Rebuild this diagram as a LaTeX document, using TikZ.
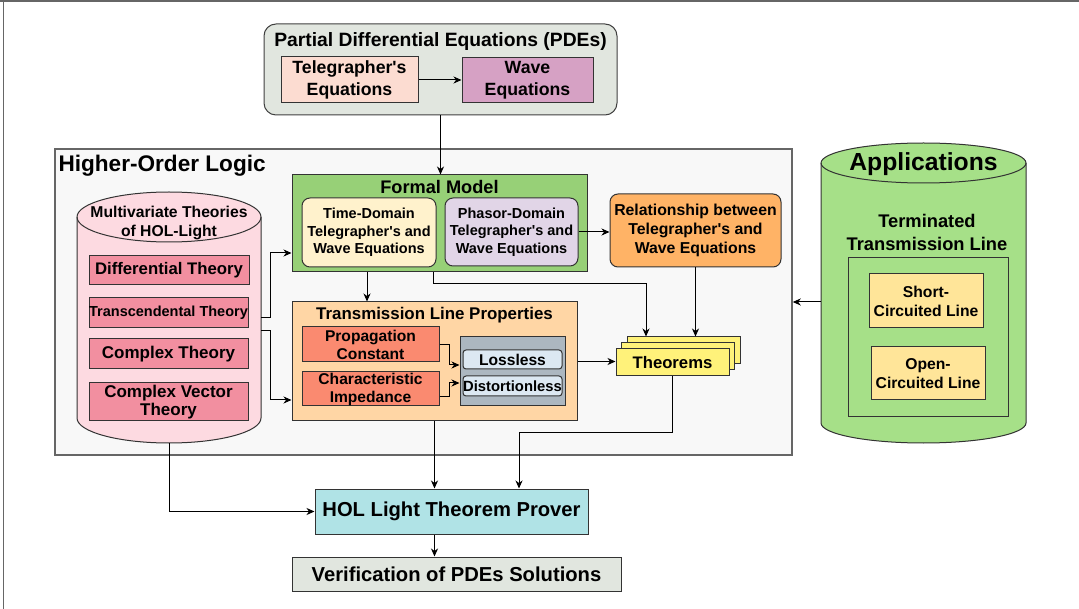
\documentclass[tikz,border=0pt]{standalone}
\usepackage{fontspec}
\setmainfont{Liberation Sans}[Ligatures=TeXOff]
\usetikzlibrary{arrows.meta}
\newcommand{\fs}[2]{\fontsize{#1}{#2}\selectfont\bfseries}
\definecolor{pdegrey}{RGB}{225,230,223}
\definecolor{telpink}{RGB}{252,220,209}
\definecolor{wavepurple}{RGB}{214,161,196}
\definecolor{holgrey}{RGB}{248,248,248}
\definecolor{mvpink}{RGB}{253,218,225}
\definecolor{mvbox}{RGB}{242,143,160}
\definecolor{fmgreen}{RGB}{151,208,119}
\definecolor{tdyellow}{RGB}{255,242,204}
\definecolor{pdlilac}{RGB}{225,213,231}
\definecolor{relorange}{RGB}{255,179,102}
\definecolor{tlppeach}{RGB}{255,214,165}
\definecolor{pcsalmon}{RGB}{250,138,112}
\definecolor{greyblue}{RGB}{172,183,192}
\definecolor{llblue}{RGB}{220,232,242}
\definecolor{thmyellow}{RGB}{255,242,122}
\definecolor{hlcyan}{RGB}{176,227,230}
\definecolor{appgreen}{RGB}{166,224,136}
\definecolor{scyellow}{RGB}{255,229,153}
\begin{document}
\begin{tikzpicture}[x=1pt, y=-1pt, line width=1pt,
  box/.style={draw=black!80, inner sep=0pt, align=center, font=\fs{15.6}{18}},
  lbl/.style={inner sep=0pt, align=center},
  arr/.style={-{Stealth[length=8pt,width=7pt,inset=2.5pt]}},
  cyl/.style={draw=black!80}]
\useasboundingbox (0,0) rectangle (1079,609);
\draw[black!60, line width=1.5pt] (0,1) -- (1079,1);
\draw[black!60, line width=1.5pt] (3.5,0) -- (3.5,609);
\node[box, fill=pdegrey, draw=black!75, rounded corners=12pt, minimum width=353pt, minimum height=91pt] (B_pde) at (440.5,69.5) {};
\node[lbl, font=\fs{19.3}{22}] (B_pdet) at (440.5,42) {Partial Differential Equations (PDEs)};
\node[box, fill=telpink, minimum width=137pt, minimum height=46pt, font=\fs{17.7}{22.5}] (B_tel) at (349.5,80) {Telegrapher's\\Equations};
\node[box, fill=wavepurple, minimum width=131pt, minimum height=45pt, font=\fs{17.7}{22.5}] (B_wave) at (527.5,80.5) {Wave\\Equations};
\node[box, fill=holgrey, draw=black!60, line width=1.5pt, minimum width=737pt, minimum height=306pt] (B_hol) at (423.5,302) {};
\node[lbl, anchor=west, font=\fs{22.6}{26}] (B_holt) at (58,166) {Higher-Order Logic};
\draw[cyl, fill=mvpink] (77,217) -- (77,418) arc[start angle=180, end angle=0, x radius=92, y radius=25] -- (261,217) arc[start angle=0, end angle=-180, x radius=92, y radius=25] -- cycle;
\draw[cyl] (77,217) arc[start angle=180, end angle=0, x radius=92, y radius=25];
\node[lbl, font=\fs{15.7}{18.5}] (B_mvt) at (169,223) {Multivariate Theories\\of HOL-Light};
\node[box, fill=mvbox, minimum width=160pt, minimum height=29pt, font=\fs{16.75}{18}] (B_dif) at (169,270.5) {Differential Theory};
\node[box, fill=mvbox, minimum width=159pt, minimum height=30pt, font=\fs{14.5}{17}] (B_tra) at (168.5,313) {Transcendental Theory};
\node[box, fill=mvbox, minimum width=159pt, minimum height=30pt, font=\fs{17}{18}] (B_cpx) at (168.5,354) {Complex Theory};
\node[box, fill=mvbox, minimum width=159pt, minimum height=38pt, font=\fs{17}{18.5}] (B_cvt) at (168.5,402) {Complex Vector\\Theory};
\coordinate (C_mv1) at (261,318);
\coordinate (C_mv2) at (261,331);
\coordinate (C_mvb) at (169,443);
\node[box, fill=fmgreen, minimum width=295pt, minimum height=97pt] (B_fm) at (439.5,223.5) {};
\node[lbl, font=\fs{18.2}{20}] (B_fmt) at (439.5,187) {Formal Model};
\node[box, fill=tdyellow, rounded corners=8pt, minimum width=134pt, minimum height=69pt, font=\fs{14.5}{17.5}] (B_td) at (369,232.5) {Time-Domain\\Telegrapher's and\\Wave Equations};
\node[box, fill=pdlilac, rounded corners=8pt, minimum width=133pt, minimum height=68pt, font=\fs{14.5}{17.5}] (B_pd) at (511.5,232) {Phasor-Domain\\Telegrapher's and\\Wave Equations};
\node[box, fill=relorange, rounded corners=8pt, minimum width=171pt, minimum height=73pt, font=\fs{15.8}{19}] (B_rel) at (695.5,230.5) {Relationship between\\Telegrapher's and\\Wave Equations};
\node[box, fill=tlppeach, minimum width=285pt, minimum height=119pt] (B_tlp) at (434.5,361.5) {};
\node[lbl, font=\fs{16.9}{19}] (B_tlpt) at (434.5,315) {Transmission Line Properties};
\node[box, fill=pcsalmon, minimum width=137pt, minimum height=35pt] (B_pc) at (370.5,344.5) {Propagation\\Constant};
\node[box, fill=pcsalmon, minimum width=137pt, minimum height=34pt] (B_ci) at (370.5,389) {Characteristic\\Impedance};
\node[box, fill=greyblue, minimum width=105pt, minimum height=69pt] (B_grey) at (512.5,371.5) {};
\node[box, fill=llblue, rounded corners=3pt, minimum width=99pt, minimum height=19pt] (B_ll) at (512.5,359.5) {Lossless};
\node[box, fill=llblue, rounded corners=3pt, minimum width=99pt, minimum height=20pt, font=\fs{14.8}{17}] (B_dl) at (512.5,386) {Distortionless};
\node[box, fill=thmyellow, minimum width=113pt, minimum height=27pt] (B_thmc) at (683.5,350.5) {};
\node[box, fill=thmyellow, minimum width=113pt, minimum height=27pt] (B_thmb) at (678,356.5) {};
\node[box, fill=thmyellow, minimum width=113pt, minimum height=27pt, font=\fs{16.7}{18}] (B_thm) at (672.5,362.5) {Theorems};
\draw[cyl, fill=appgreen] (821,163) -- (821,423) arc[start angle=180, end angle=0, x radius=102.5, y radius=20] -- (1026,163) arc[start angle=0, end angle=-180, x radius=102.5, y radius=20] -- cycle;
\draw[cyl] (821,163) arc[start angle=180, end angle=0, x radius=102.5, y radius=20];
\node[lbl, font=\fs{24.7}{28}] (B_app) at (923.5,164) {Applications};
\node[lbl, font=\fs{18.3}{23}] (B_appt) at (927,232.5) {Terminated\\Transmission Line};
\node[box, fill=appgreen, minimum width=160pt, minimum height=159pt] (B_ttl) at (928,337.5) {};
\node[box, fill=scyellow, minimum width=114pt, minimum height=54pt, font=\fs{15.7}{19}] (B_sc) at (926,301) {Short-\\Circuited Line};
\node[box, fill=scyellow, minimum width=114pt, minimum height=53pt, font=\fs{15.7}{19}] (B_oc) at (928,373.5) {Open-\\Circuited Line};
\coordinate (C_app) at (821,302);
\node[box, fill=hlcyan, minimum width=273pt, minimum height=45pt, font=\fs{20.2}{22}] (B_hl) at (451.5,511.5) {HOL Light Theorem Prover};
\node[box, fill=pdegrey, minimum width=329pt, minimum height=34pt, font=\fs{20.2}{22}] (B_ver) at (456.5,574) {Verification of PDEs Solutions};
\draw[arr] (B_tel.east) -- (B_tel.east -| B_wave.west);
\draw[arr] (B_pde.south) -- (B_pde.south |- B_fm.north);
\draw[arr] (C_mv1) -- ++(9,0) |- ([yshift=-29.5pt]B_fm.west);
\draw[arr] (C_mv2) -- ++(9,0) |- ([yshift=-38.5pt]B_tlp.west);
\draw[arr] (C_mvb) |- (B_hl.west);
\draw[arr] (B_pd.east) -- (B_pd.east -| B_rel.west);
\draw[arr] ([xshift=-72.5pt]B_fm.south) -- ([xshift=-72.5pt]B_fm.south |- B_tlp.north);
\draw[arr] ([xshift=-6.5pt]B_fm.south) -- ++(0,11) -| ([xshift=-37.5pt]B_thmc.north);
\draw[arr] (B_rel.south) -- (B_rel.south |- B_thmc.north);
\draw[arr] (B_pc.east) -- ++(10,0) |- ([yshift=6.5pt]B_grey.west);
\draw[arr] ([yshift=-8pt]B_ci.east) -- ++(10,0) |- ([yshift=-11.5pt]B_grey.west);
\draw[arr] (B_tlp.east) -- (B_tlp.east -| B_thm.west);
\draw[arr] (B_thm.south) -- ++(0,56) -| ([xshift=67.5pt]B_hl.north);
\draw[arr] (B_tlp.south) -- (B_tlp.south |- B_hl.north);
\draw[arr] ([xshift=-17pt]B_hl.south) -- ([xshift=-17pt]B_hl.south |- B_ver.north);
\draw[arr] (C_app) -- (B_hol.east);
\end{tikzpicture}
\end{document}
